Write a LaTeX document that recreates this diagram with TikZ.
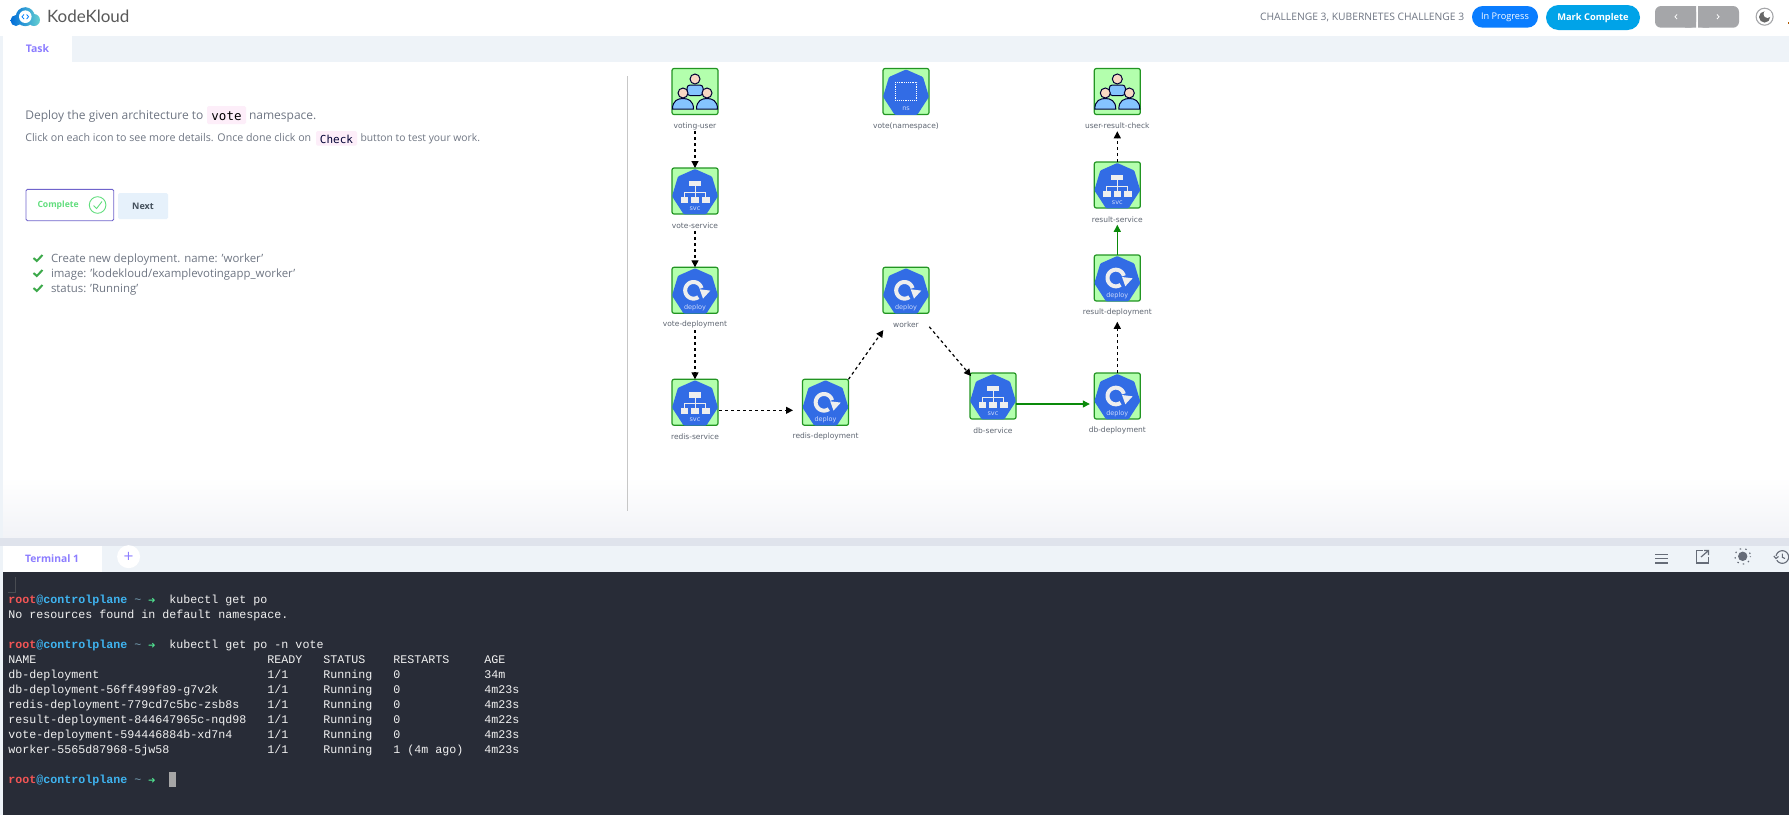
\documentclass[tikz,border=0pt]{standalone}
\usepackage{fontspec}
\usetikzlibrary{arrows.meta}
\setmainfont{Open Sans}
\newfontfamily\termfont{Liberation Mono}
\newfontfamily\codefont{DejaVu Sans Mono}
\newfontfamily\labfont{DejaVu Sans}
\newfontfamily\logofont{Lato}
\newcommand{\pxs}[1]{\fontsize{#1}{#1}\selectfont}
\newlength{\cw}\setlength{\cw}{7pt}
\definecolor{k8s}{HTML}{326CE5}
\definecolor{boxfill}{HTML}{B3FFAD}
\definecolor{boxline}{HTML}{229522}
\definecolor{icontxt}{HTML}{CBD9FB}
\definecolor{glyph}{HTML}{EEEEEE}
\definecolor{labgray}{HTML}{5F6672}
\definecolor{uigray}{HTML}{6F7683}
\definecolor{tabbg}{HTML}{EEF3F8}
\definecolor{bandbg}{HTML}{DFE3EC}
\definecolor{fadebg}{HTML}{F2F3F7}
\definecolor{purp}{HTML}{8C7DFF}
\definecolor{termbg}{HTML}{282C37}
\definecolor{termfg}{HTML}{F2F2F2}
\definecolor{rootred}{HTML}{F25555}
\definecolor{hostblue}{HTML}{3FB4F0}
\definecolor{arrgreen}{HTML}{4FE08F}
\definecolor{pinkbg}{HTML}{FDEEF9}
\definecolor{ticongray}{HTML}{666C78}
\definecolor{progblue}{HTML}{0A7DFF}
\definecolor{markblue}{HTML}{00A3E8}
\definecolor{navgray}{HTML}{A5A6A9}
\definecolor{nextbg}{HTML}{E6F1FB}
\definecolor{nexttext}{HTML}{44505C}
\definecolor{donegreen}{HTML}{62DE7E}
\definecolor{checkgreen}{HTML}{3CA94A}
\definecolor{connectgreen}{HTML}{0A8A0A}
\definecolor{bodyblue}{HTML}{85C4FF}
\definecolor{headskin}{HTML}{F8D8C4}
\tikzset{
  x=1pt,y=-1pt,
  every node/.style={inner sep=0pt,outer sep=0pt},
  iconbox/.style={draw=boxline,fill=boxfill,line width=1.2pt,rounded corners=2pt,minimum width=46pt,minimum height=46pt},
  iconlabel/.style={font=\labfont\pxs{7.5},text=labgray,minimum height=10.6pt},
  icontext/.style={font=\labfont\pxs{6.5},text=icontxt},
  dashconn/.style={draw=black,line width=1.2pt,dash pattern=on 3pt off 3pt,-{Triangle[length=7pt,width=7pt]}},
  greenconn/.style={draw=connectgreen,line width=1.1pt,-{Triangle[length=7pt,width=7pt]}},
  uitext/.style={font=\pxs{12},text=uigray,anchor=base west},
  clicktext/.style={font=\pxs{10.65},text=uigray,anchor=base west},
  itemtext/.style={font=\pxs{11.4},text=uigray,anchor=base west},
  termline/.style={font=\termfont\pxs{11.67},text=termfg,anchor=base west},
  checkmark/.style={draw=checkgreen,line width=2pt},
  heptagon/.pic={\fill[k8s,rounded corners=1pt] (0,-22) -- (17,-14.5) -- (23,5.3) -- (11.3,23.3) -- (-11.3,23.3) -- (-23,5.3) -- (-17,-14.5) -- cycle;},
  svcicon/.pic={
    \pic {heptagon};
    \fill[glyph] (-6,-10) rectangle (6,-4.7);
    \draw[glyph,line width=0.8pt] (0,-4.7) -- (0,6) (-10.5,6) -- (-10.5,1.3) -- (10.5,1.3) -- (10.5,6);
    \fill[glyph] (-14.5,6) rectangle (-6.8,12);
    \fill[glyph] (-3.6,6) rectangle (3.6,12);
    \fill[glyph] (7,6) rectangle (14.5,12);
    \node[icontext] (svctxt) at (0,17.5) {svc};
  },
  deployicon/.pic={
    \pic {heptagon};
    \draw[glyph,line width=4pt] plot[domain=55:345,samples=40] ({-1.5+8.3*cos(\x)},{8.3*sin(\x)});
    \fill[glyph] (4.7,-1) -- (15.3,0.3) -- (8,8.3) -- cycle;
    \node[icontext] (deptxt) at (0,17.2) {deploy};
  },
  nsicon/.pic={
    \pic {heptagon};
    \draw[white,line width=0.7pt,dash pattern=on 1.2pt off 1pt] (-10.7,-9.5) rectangle (10.7,9);
    \node[icontext,text=icontxt] (nstxt) at (0,17) {ns};
  },
  usersicon/.pic={
    \begin{scope}[line width=1pt,draw=black!80!blue]
    \filldraw[fill=bodyblue,rounded corners=3pt] (-8,4) -- (-8,-6.5) -- (8,-6.5) -- (8,4) -- cycle;
    \filldraw[fill=headskin] (0,-12.5) circle[radius=5];
    \filldraw[fill=bodyblue] (-22.5,17.5) .. controls (-22.5,9) and (-17,7) .. (-12,7) .. controls (-7,7) and (-1.5,9) .. (-1.5,17.5) -- cycle;
    \filldraw[fill=bodyblue] (1.5,17.5) .. controls (1.5,9) and (7,7) .. (12,7) .. controls (17,7) and (22.5,9) .. (22.5,17.5) -- cycle;
    \filldraw[fill=headskin] (-12,1.5) circle[radius=5];
    \filldraw[fill=headskin] (12,1.5) circle[radius=5];
    \end{scope}
  },
}
\begin{document}
\begin{tikzpicture}
\useasboundingbox (0,0) rectangle (1789,815);
% page backgrounds
\fill[white] (0,0) rectangle (1789,815);
\fill[tabbg] (0,36) rectangle (3,815);
\fill[tabbg] (72,36) rectangle (1789,62);
\shade[top color=white,bottom color=fadebg] (3,477) rectangle (1789,538);
\fill[bandbg] (0,538) rectangle (1789,546);
\fill[tabbg] (0,546) rectangle (1789,572);
\fill[white] (3,546) rectangle (102,572);
\fill[termbg] (3,572) rectangle (1789,815);
% logo
\shade[left color=blue!50!cyan!85!black,right color=cyan!40!teal!60!white]
  (25.3,16.7) circle[radius=9.5] (16,20.5) circle[radius=5.5] (34,20) circle[radius=6];
\fill[white] (25.3,16.7) circle[radius=6.3];
\draw[blue!50!cyan,line width=0.8pt] (24,14.5) -- (22,16.7) -- (24,19) (26.6,14.5) -- (28.6,16.7) -- (26.6,19);
\node[font=\logofont\pxs{17},text=black!65,anchor=base west] (brand) at (47,22.5) {KodeKloud};
% header right
\node[font=\pxs{10.3},text=uigray,anchor=base west] (crumb) at (1260,20.5) {CHALLENGE 3, KUBERNETES CHALLENGE 3};
\fill[progblue,rounded corners=10.8pt] (1472,6) rectangle (1538,27.7);
\node[font=\pxs{9.2},text=white] (inprog) at (1505,17) {In Progress};
\fill[markblue,rounded corners=12.5pt] (1546,5) rectangle (1640,30);
\node[font=\bfseries\pxs{9.3},text=white] (markc) at (1593,17.7) {Mark Complete};
\fill[navgray,rounded corners=6pt] (1655,6) -- (1696,6) -- (1696,27.7) -- (1655,27.7) -- cycle;
\fill[navgray,rounded corners=6pt] (1698,6) -- (1739,6) -- (1739,27.7) -- (1698,27.7) -- cycle;
\fill[navgray] (1685,6) rectangle (1696,27.7) (1698,6) rectangle (1709,27.7);
\draw[white,line width=0.8pt] (1677,14.5) -- (1675,16.7) -- (1677,19) (1717,14.5) -- (1719,16.7) -- (1717,19);
\draw[navgray,line width=1.1pt] (1764.6,16.7) circle[radius=8.5];
\fill[black!60] (1764.6,17) circle[radius=5.6];
\fill[white] (1767.5,14) circle[radius=4];
\fill[orange!70!black] (1787.8,22) rectangle (1789,23.5);
% task tab
\node[font=\bfseries\pxs{10.5},text=purp] (tasktab) at (37.5,48.3) {Task};
% left panel text
\fill[pinkbg,rounded corners=1.5pt] (207,106) rectangle (246,124);
\fill[pinkbg,rounded corners=1.5pt] (316,131) rectangle (357,145.7);
\node[uitext] (deploytxt) at (25.3,119) {Deploy the given architecture to};
\node[font=\codefont\pxs{12.5},text=black,anchor=base] (votecode) at (226.5,120) {vote};
\node[uitext] (nstxt) at (249,119) {namespace.};
\node[clicktext] (clicktxt) at (25.3,141.2) {Click on each icon to see more details. Once done click on};
\node[font=\codefont\pxs{11},text=black!80!blue,anchor=base] (checkcode) at (336.5,143.5) {Check};
\node[clicktext,font=\pxs{10.3}] (buttontxt) at (360.5,141.2) {button to test your work.};
\draw[draw=purp!80!black,fill=white,line width=0.9pt,rounded corners=1.5pt] (26,189.3) rectangle (113.7,220.7);
\node[font=\bfseries\pxs{8.6},text=donegreen,anchor=west] (completetxt) at (37.5,204.8) {Complete};
\draw[donegreen,line width=0.9pt] (97.6,205) circle[radius=8.3];
\draw[donegreen,line width=0.9pt] (93.6,205.5) -- (96.6,208.5) -- (102,201.5);
\fill[nextbg,rounded corners=1.5pt] (118,193) rectangle (168,219);
\node[font=\bfseries\pxs{9},text=nexttext] (nexttxt) at (143,206) {Next};
\draw[checkmark] (33.5,258) -- (36.8,261) -- (42.5,255);
\draw[checkmark] (33.5,273) -- (36.8,276) -- (42.5,270);
\draw[checkmark] (33.5,288) -- (36.8,291) -- (42.5,285);
\node[itemtext] (item1) at (51,262) {Create new deployment. name: 'worker'};
\node[itemtext] (item2) at (51,277) {image: 'kodekloud/examplevotingapp\_worker'};
\node[itemtext] (item3) at (51,292) {status: 'Running'};
\draw[black!22,line width=0.9pt] (627.5,76) -- (627.5,511);
% icon boxes
\node[iconbox] (vu) at (695,91.5) {};       \pic at (695,91.5) {usersicon};
\node[iconbox] (vs) at (695,191) {};        \pic at (695,191) {svcicon};
\node[iconbox] (vd) at (695,290.3) {};      \pic at (695,290.3) {deployicon};
\node[iconbox] (rs) at (695,402.3) {};      \pic at (695,402.3) {svcicon};
\node[iconbox] (rd) at (825.5,402.3) {};    \pic at (825.5,402.3) {deployicon};
\node[iconbox] (wk) at (906,290.3) {};      \pic at (906,290.3) {deployicon};
\node[iconbox] (ns) at (906,91.5) {};       \pic at (906,91.5) {nsicon};
\node[iconbox] (ds) at (993,396) {};        \pic at (993,396) {svcicon};
\node[iconbox] (dd) at (1117.3,396) {};     \pic at (1117.3,396) {deployicon};
\node[iconbox] (rdp) at (1117.3,278) {};    \pic at (1117.3,278) {deployicon};
\node[iconbox] (rsv) at (1117.3,185) {};    \pic at (1117.3,185) {svcicon};
\node[iconbox] (urc) at (1117.3,91.5) {};   \pic at (1117.3,91.5) {usersicon};
% labels
\node[iconlabel] (lvu) at (695,126) {voting-user};
\node[iconlabel] (lvs) at (695,225.5) {vote-service};
\node[iconlabel] (lvd) at (695,324.8) {vote-deployment};
\node[iconlabel] (lrs) at (695,436.8) {redis-service};
\node[iconlabel] (lrd) at (825.5,436.8) {redis-deployment};
\node[iconlabel] (lwk) at (906,324.8) {worker};
\node[iconlabel] (lns) at (906,126) {vote(namespace)};
\node[iconlabel] (lds) at (993,430.5) {db-service};
\node[iconlabel] (ldd) at (1117.3,430.5) {db-deployment};
\node[iconlabel] (lrdp) at (1117.3,312.5) {result-deployment};
\node[iconlabel] (lrsv) at (1117.3,219.5) {result-service};
\node[iconlabel] (lurc) at (1117.3,126) {user-result-check};
% connectors
\draw[dashconn] (lvu.south) -- (vs.north);
\draw[dashconn] (lvs.south) -- (vd.north);
\draw[dashconn] (lvd.south) -- (rs.north);
\draw[dashconn] ([xshift=1pt,yshift=-8pt]rs.east) -- ([xshift=-9.5pt,yshift=-8pt]rd.west);
\draw[dashconn] (rd.north east) -- ([xshift=-22.7pt]lwk.south);
\draw[dashconn] ([xshift=23.3pt,yshift=3.3pt]lwk.south) -- ([xshift=1pt,yshift=-3pt]ds.north west);
\draw[greenconn] ([yshift=-8pt]ds.east) -- ([xshift=-4.5pt,yshift=-8pt]dd.west);
\draw[dashconn] (dd.north) -- ([yshift=-4pt]lrdp.south);
\draw[greenconn] (rdp.north) -- (lrsv.south);
\draw[dashconn] (rsv.north) -- (lurc.south);
% terminal tab bar
\node[font=\bfseries\pxs{10.3},text=purp] (termtab) at (52,558.3) {Terminal 1};
\node[circle,fill=white,minimum size=23pt,text=purp,font=\labfont\pxs{13}] (addtab) at (128.6,556.7) {+};
\draw[ticongray,line width=1.1pt] (1655,554.7) -- (1668,554.7) (1655,558.8) -- (1668,558.8) (1655,563) -- (1668,563);
\draw[ticongray,line width=1.2pt] (1703,550.5) -- (1696.3,550.5) -- (1696.3,563) -- (1708.7,563) -- (1708.7,556.5);
\draw[ticongray,line width=1.2pt] (1701,557) -- (1708,551) (1704,550.5) -- (1708.5,550.5) -- (1708.5,555);
\fill[ticongray] (1742.7,556.3) circle[radius=4.7];
\draw[ticongray,line width=1.1pt,dash pattern=on 1.5pt off 4.2pt,dash phase=0.75pt] (1742.7,556.3) circle[radius=7.8];
\draw[ticongray,line width=1.1pt] plot[domain=-170:150,samples=30] ({1782.3+6.3*cos(\x)},{557+6.3*sin(\x)});
\draw[ticongray,line width=1.1pt] (1782.3,553.5) -- (1782.3,557.3) -- (1785,558.5) (1773.8,556) -- (1776,558.5) -- (1778.5,556.5);
% terminal
\draw[black!30!termbg!80!white,line width=0.5pt] (15.3,577) -- (15.3,592.3) -- (8,592.3);
\newcommand{\promptline}[3]{\node[termline] (#1) at (8.4,#2) {\textcolor{rootred}{\bfseries root}\textcolor{hostblue}{@\bfseries controlplane} \textcolor{black!40!hostblue!60!termfg}{\char"7E} \makebox[\cw]{\labfont\pxs{9}\textcolor{arrgreen}{➜}}\hspace{2\cw}#3};}
\newcommand{\podline}[7]{\node[termline] (#1) at (8.4,#2) {\makebox[37\cw][l]{#3}\makebox[8\cw][l]{#4}\makebox[10\cw][l]{#5}\makebox[13\cw][l]{#6}#7};}
\promptline{p1}{603.2}{kubectl get po}
\node[termline] (noresources) at (8.4,618.2) {No resources found in default namespace.};
\promptline{p2}{648.2}{kubectl get po -n vote}
\podline{hd}{663.2}{NAME}{READY}{STATUS}{RESTARTS}{AGE}
\podline{r1}{678.2}{db-deployment}{1/1}{Running}{0}{34m}
\podline{r2}{693.2}{db-deployment-56ff499f89-g7v2k}{1/1}{Running}{0}{4m23s}
\podline{r3}{708.2}{redis-deployment-779cd7c5bc-zsb8s}{1/1}{Running}{0}{4m23s}
\podline{r4}{723.2}{result-deployment-844647965c-nqd98}{1/1}{Running}{0}{4m22s}
\podline{r5}{738.2}{vote-deployment-594446884b-xd7n4}{1/1}{Running}{0}{4m23s}
\podline{r6}{753.2}{worker-5565d87968-5jw58}{1/1}{Running}{1 (4m ago)}{4m23s}
\promptline{p3}{783.2}{}
\fill[black!35] (168.8,772) rectangle (176,786.7);
\end{tikzpicture}
\end{document}
